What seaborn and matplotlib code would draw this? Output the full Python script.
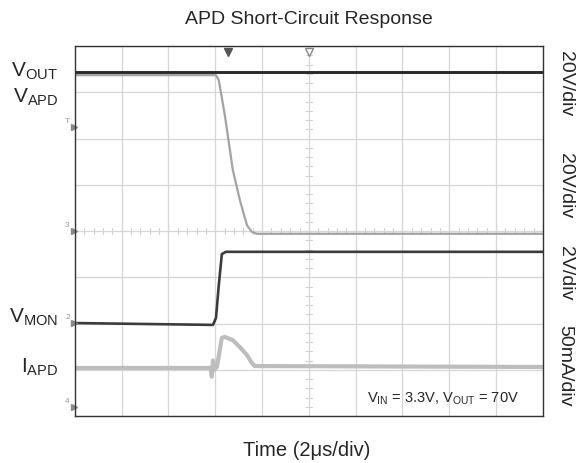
import matplotlib
matplotlib.use("Agg")
import matplotlib.pyplot as plt
import numpy as np
import seaborn as sns

# scope traces, time in us (2us/div), level in divisions (0..8)
vout_t = [0, 20]
vout_y = [7.44, 7.44]

vapd_t = [0, 6.03, 6.15, 6.41, 6.75, 7.05, 7.35, 7.56, 7.78, 20]
vapd_y = [7.37, 7.37, 7.26, 6.50, 5.32, 4.67, 4.13, 3.98, 3.94, 3.94]

vmon_t = [0, 5.90, 6.03, 6.15, 6.28, 6.45, 20]
vmon_y = [2.01, 1.97, 2.12, 2.83, 3.50, 3.55, 3.55]

iapd_t = [0, 5.80, 5.85, 5.90, 5.95, 6.07, 6.28, 6.41, 6.75, 7.05, 7.35, 7.56, 7.69, 20]
iapd_y = [1.04, 1.04, 0.85, 1.20, 1.00, 1.06, 1.69, 1.71, 1.64, 1.49, 1.32, 1.15, 1.08, 1.06]

trace_labels = ["V$_{\\mathrm{OUT}}$", "V$_{\\mathrm{APD}}$", "V$_{\\mathrm{MON}}$", "I$_{\\mathrm{APD}}$"]
scale_labels = ["20V/div", "20V/div", "2V/div", "50mA/div"]

sns.set_style("white")
plt.rcParams["font.family"] = ["Liberation Sans", "DejaVu Sans"]
plt.rcParams["mathtext.fontset"] = "custom"
plt.rcParams["mathtext.rm"] = "Liberation Sans"
plt.rcParams["mathtext.it"] = "Liberation Sans:italic"

fig = plt.figure(figsize=(5.85, 4.63), dpi=100)
ax = fig.add_axes([0.128, 0.1015, 0.8, 0.7991])

sns.lineplot(x=vapd_t, y=vapd_y, ax=ax, color="#a3a3a3", lw=1.6)
sns.lineplot(x=iapd_t, y=iapd_y, ax=ax, color="#bdbdbd", lw=3.0)
sns.lineplot(x=vmon_t, y=vmon_y, ax=ax, color="#3c3c3c", lw=1.9)
sns.lineplot(x=vout_t, y=vout_y, ax=ax, color="#2a2a2a", lw=2.1)

ax.set_xlim(0, 20)
ax.set_ylim(0, 8)
ax.set_xticks(np.arange(0, 21, 2))
ax.set_yticks(np.arange(0, 9, 1))
ax.grid(True, color="#d6d6d6", lw=0.9)
ax.set_axisbelow(True)
ax.tick_params(length=0, labelbottom=False, labelleft=False)
for s in ax.spines.values():
    s.set_color("#333333")
    s.set_linewidth(1.0)

# minor ticks on the centre lines
for xt in np.arange(0.4, 20, 0.4):
    ax.plot([xt, xt], [3.94, 4.06], color="#cfcfcf", lw=0.8, zorder=0)
for yt in np.arange(0.2, 8, 0.2):
    ax.plot([9.88, 10.12], [yt, yt], color="#cfcfcf", lw=0.8, zorder=0)

# trigger markers
ax.plot([6.54], [7.86], marker="v", ms=6, color="#555555", clip_on=False)
ax.plot([10], [7.86], marker="v", ms=6, mfc="white", mec="#888888", clip_on=False)
for lab, yv in [("T", 6.25), ("3", 4.0), ("2", 2.01), ("4", 0.19)]:
    ax.text(-0.22, yv + 0.12, lab, fontsize=6, color="#999999", ha="right", va="center", clip_on=False)
    ax.plot([-0.05], [yv], marker=">", ms=4, color="#888888", clip_on=False)

fig.text(309 / 585, 1 - 20 / 463, "APD Short-Circuit Response", fontsize=14, ha="center", va="center")
fig.text(307 / 585, 1 - 450 / 463, "Time (2μs/div)", fontsize=14.5, ha="center", va="center")

# left trace names (baseline y in pixels from top)
for lab, ypx in zip(trace_labels, [77, 103, 323, 373]):
    fig.text(58 / 585, 1 - ypx / 463, lab, fontsize=15, ha="right", va="baseline")

# right scale labels
for lab, ypx in zip(scale_labels, [84, 186, 273, 366]):
    fig.text(565 / 585, 1 - ypx / 463, lab, fontsize=14, rotation=-90, ha="center", va="center")

ax.text(0.948, 0.035, "V$_{\\mathrm{IN}}$ = 3.3V, V$_{\\mathrm{OUT}}$ = 70V", transform=ax.transAxes,
        fontsize=10.5, ha="right", va="baseline")

fig.savefig("out.png", dpi=100)
